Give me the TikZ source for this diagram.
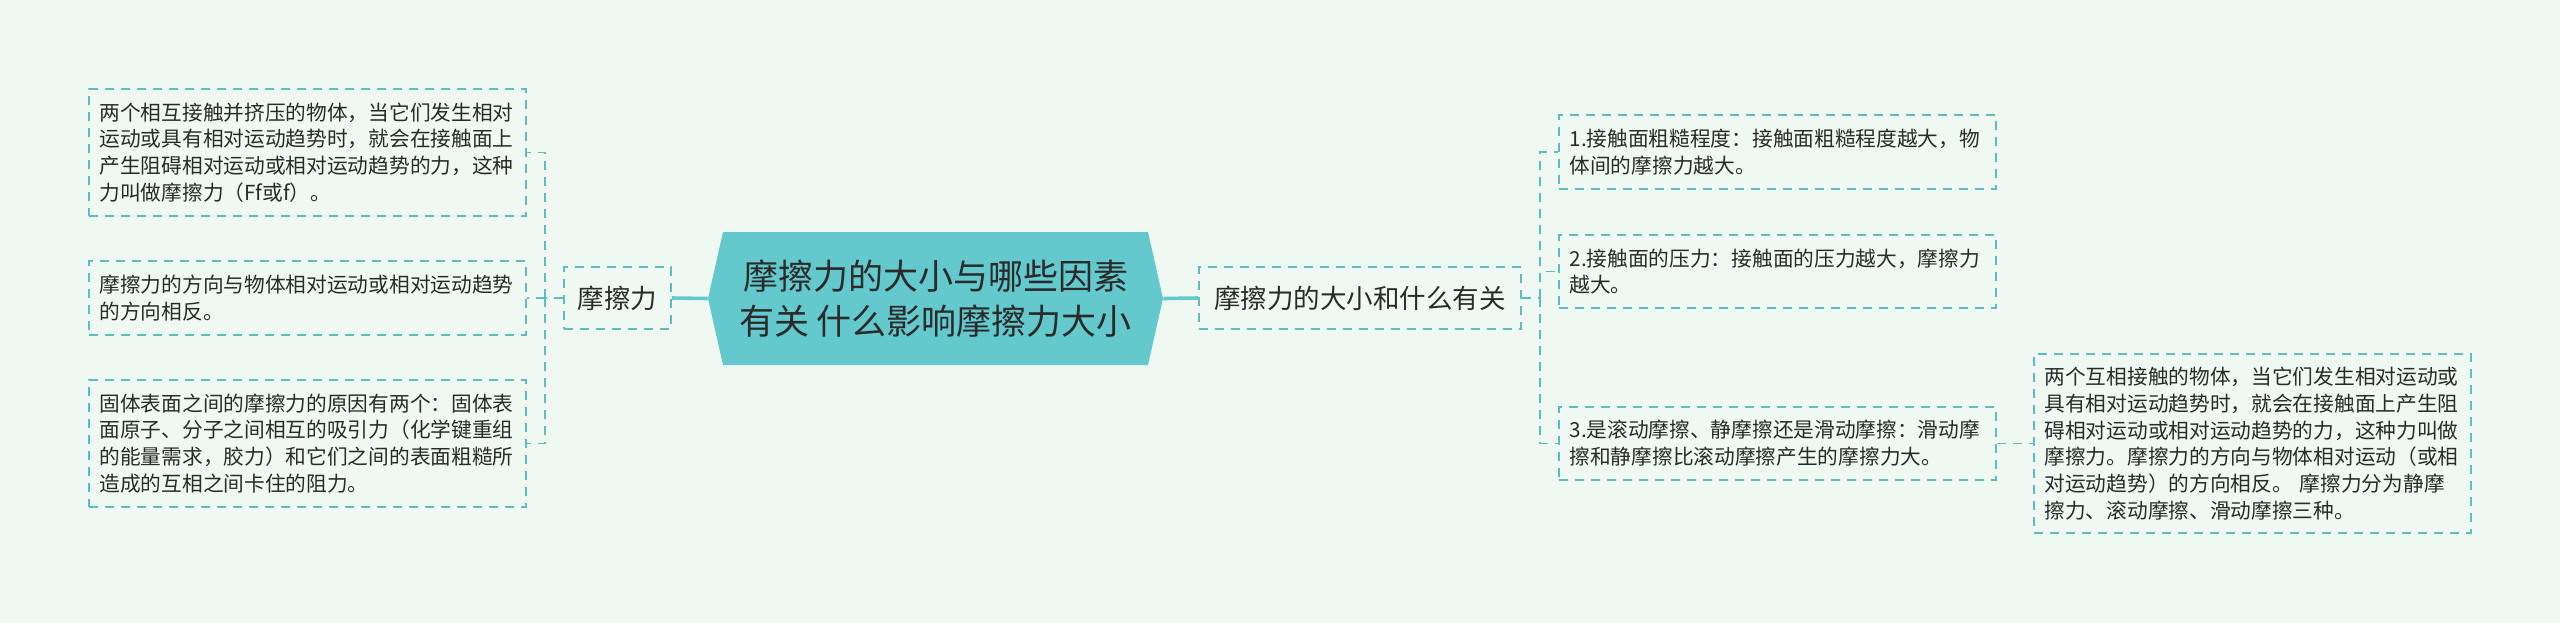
\documentclass[tikz,border=0pt]{standalone}
\usepackage{fontspec}
\setmainfont{Noto Sans CJK SC}
\definecolor{bg}{HTML}{F0F9F1}
\definecolor{hexc}{HTML}{64C9CD}
\definecolor{dashc}{HTML}{5DBDC0}
\definecolor{txt}{HTML}{2A2A2A}
\begin{document}
\begin{tikzpicture}[x=0.5pt,y=-0.5pt,
  box/.style={draw=dashc, dash pattern=on 4.5pt off 3.5pt, line width=0.9pt,
    inner sep=0pt, text=txt, align=left, text width=208pt,
    minimum width=218.5pt, font=\fontsize{10.35pt}{13.4pt}\selectfont},
  topic/.style={draw=dashc, dash pattern=on 4.5pt off 3.5pt, line width=0.9pt,
    inner sep=0pt, text=txt, align=center, minimum height=31pt,
    font=\fontsize{13.25pt}{16pt}\selectfont},
  main/.style={draw=hexc, line width=1.8pt},
  conn/.style={draw=dashc, dash pattern=on 4.5pt off 3.5pt, line width=0.8pt}]
\useasboundingbox (0,0) rectangle (2560,623);
\fill[bg] (0,0) rectangle (2560,623);

% central hexagon
\fill[hexc] (708,298.5) -- (723,232) -- (1148,232) -- (1163,298.5) -- (1148,365) -- (723,365) -- cycle;
\node[inner sep=0pt, minimum width=227.5pt, minimum height=66.5pt, align=center, text=txt,
  font=\fontsize{17.5pt}{22.5pt}\selectfont] (hex) at (935.5,298.5)
  {摩擦力的大小与哪些因素\\有关 什么影响摩擦力大小};

% left side
\node[topic, minimum width=53.5pt] (mo) at (617.5,298) {摩擦力};
\node[box, minimum height=63.5pt] (L1) at (307.5,152.5)
  {两个相互接触并挤压的物体，当它们发生相对\\运动或具有相对运动趋势时，就会在接触面上\\产生阻碍相对运动或相对运动趋势的力，这种\\力叫做摩擦力（Ff或f）。};
\node[box, minimum height=37pt] (L2) at (307.5,298)
  {摩擦力的方向与物体相对运动或相对运动趋势\\的方向相反。};
\node[box, minimum height=63.5pt] (L3) at (307.5,443.5)
  {固体表面之间的摩擦力的原因有两个：固体表\\面原子、分子之间相互的吸引力（化学键重组\\的能量需求，胶力）和它们之间的表面粗糙所\\造成的互相之间卡住的阻力。};

% right side
\node[topic, minimum width=161pt] (R0) at (1360,298) {摩擦力的大小和什么有关};
\node[box, minimum height=37pt] (R1) at (1777.5,152)
  {1.接触面粗糙程度：接触面粗糙程度越大，物\\体间的摩擦力越大。};
\node[box, minimum height=36.5pt] (R2) at (1777.5,271.5)
  {2.接触面的压力：接触面的压力越大，摩擦力\\越大。};
\node[box, minimum height=36.5pt] (R3) at (1777.5,443.5)
  {3.是滚动摩擦、静摩擦还是滑动摩擦：滑动摩\\擦和静摩擦比滚动摩擦产生的摩擦力大。};
\node[box, minimum height=89.5pt] (R4) at (2252.5,443.5)
  {两个互相接触的物体，当它们发生相对运动或\\具有相对运动趋势时，就会在接触面上产生阻\\碍相对运动或相对运动趋势的力，这种力叫做\\摩擦力。摩擦力的方向与物体相对运动（或相\\对运动趋势）的方向相反。 摩擦力分为静摩\\擦力、滚动摩擦、滑动摩擦三种。};

% connectors
\draw[main] (mo.east) -- (hex.west);
\draw[main] (hex.east) -- (R0.west);

\coordinate (ls) at (545,298);
\draw[conn] (mo.west) -- (ls);
\draw[conn] (ls) -- (L2.east);
\draw[conn] (ls) |- (L1.east);
\draw[conn] (ls) |- (L3.east);

\coordinate (rs) at (1540,298);
\draw[conn] (R0.east) -- (rs);
\draw[conn] (rs) |- (R1.west);
\draw[conn] (rs) |- (R2.west);
\draw[conn] (rs) |- (R3.west);
\draw[conn] (R3.east) -- (R4.west);
\end{tikzpicture}
\end{document}
